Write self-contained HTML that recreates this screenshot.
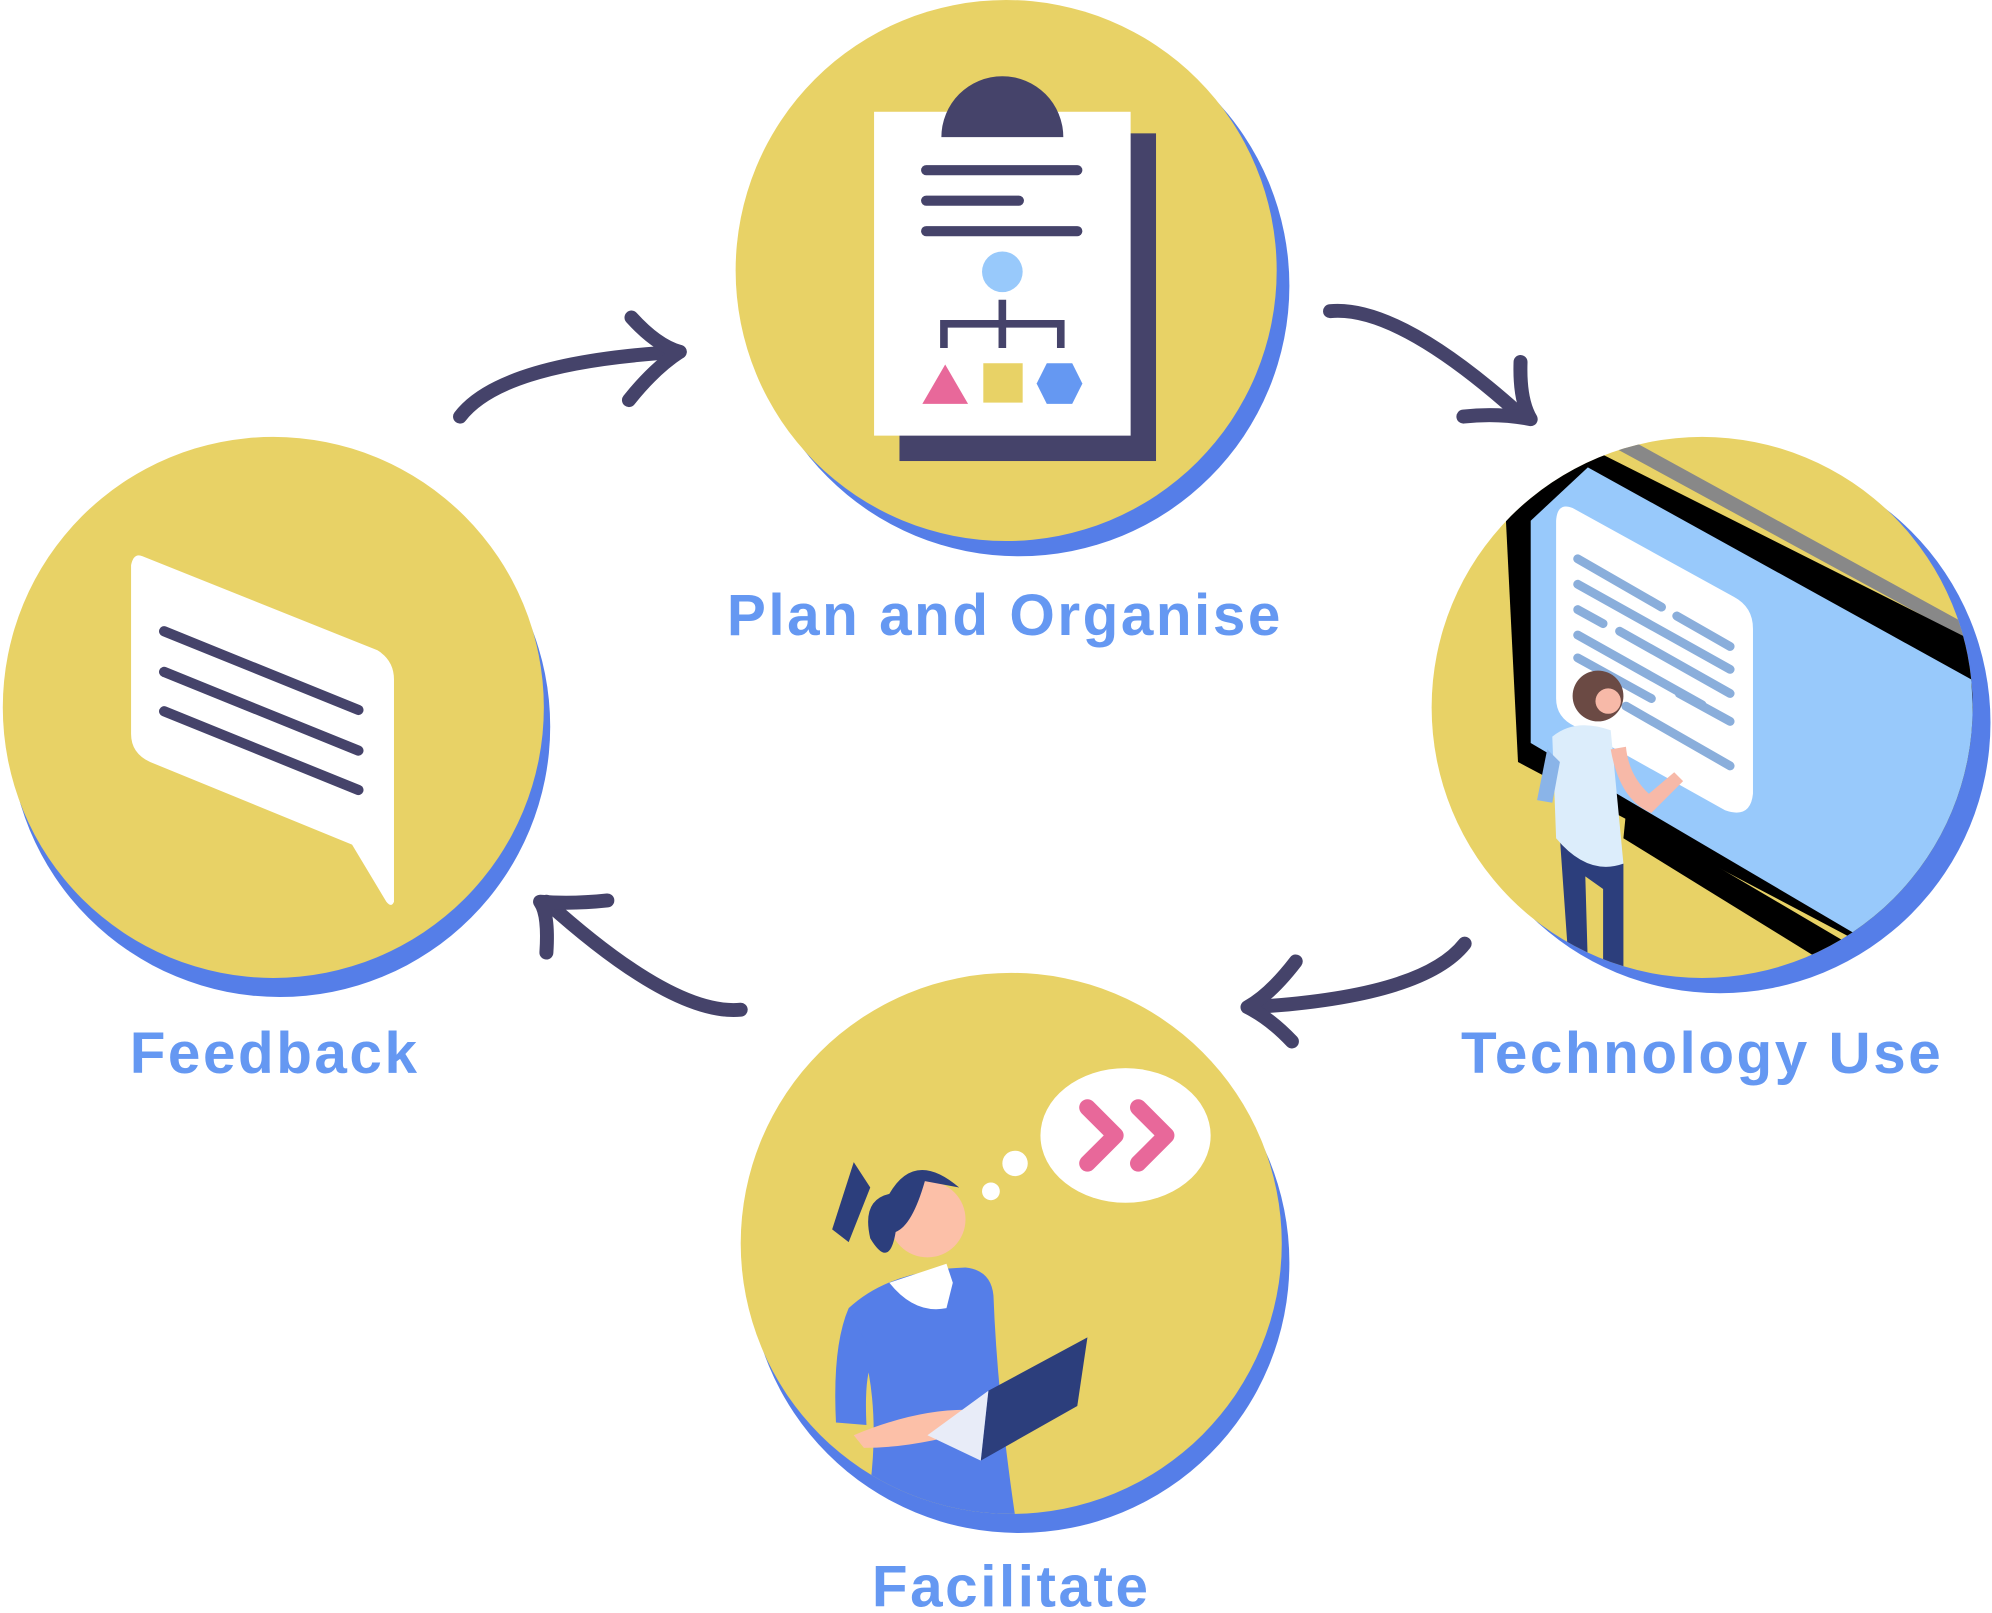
<!DOCTYPE html>
<html><head><meta charset="utf-8"><style>
html,body{margin:0;padding:0;background:#fff;}
svg{display:block;}
text{font-family:"Liberation Sans",sans-serif;font-weight:bold;fill:#6598f2;letter-spacing:2px;}
</style></head><body>
<svg width="1992" height="1613" viewBox="0 0 1568 1270" xmlns="http://www.w3.org/2000/svg">
<defs>
<clipPath id="cR"><circle cx="1340" cy="557" r="213"/></clipPath>
<clipPath id="cB"><circle cx="796" cy="979" r="213"/></clipPath>
</defs>
<circle cx="802" cy="225" r="213" fill="#557ee8"/>
<circle cx="1354" cy="569" r="213" fill="#557ee8"/>
<circle cx="220" cy="572" r="213" fill="#557ee8"/>
<circle cx="802" cy="994" r="213" fill="#557ee8"/>
<circle cx="792" cy="213" r="213" fill="#e8d266"/>
<circle cx="1340" cy="557" r="213" fill="#e8d266"/>
<circle cx="215" cy="557" r="213" fill="#e8d266"/>
<circle cx="796" cy="979" r="213" fill="#e8d266"/>

<rect x="708" y="105" width="202" height="258" fill="#45436a"/>
<rect x="688" y="88" width="202" height="255" fill="#fff"/>
<path d="M741 108 A48 48 0 0 1 837 108 Z" fill="#45436a"/>
<g stroke="#45436a" stroke-width="8" stroke-linecap="round">
<line x1="729" y1="134" x2="848" y2="134"/>
<line x1="729" y1="158" x2="802" y2="158"/>
<line x1="729" y1="182" x2="848" y2="182"/>
</g>
<circle cx="789" cy="214" r="16" fill="#98c9fb"/>
<g stroke="#45436a" stroke-width="6" fill="none">
<line x1="789" y1="236" x2="789" y2="274"/>
<polyline points="743,274 743,255 835,255 835,274"/>
</g>
<polygon points="744,287 762,318 726,318" fill="#e8689a"/>
<rect x="774" y="286" width="31" height="31" fill="#e8d266"/>
<polygon points="824,286 844,286 852,302 844,318 824,318 816,302" fill="#6598f2"/>

<g clip-path="url(#cR)">
<polygon points="1283,346 1560,498 1560,510 1270,352" fill="#888"/>
<polygon points="1185,400 1250,352 1560,508 1560,760 1470,745 1195,600" fill="#000"/>
<polygon points="1205,410 1250,368 1552,535 1560,720 1460,735 1205,585" fill="#98c9fb"/>
<path d="M1238 400 L1365 470 Q1380 478 1380 495 L1380 625 Q1378 645 1358 638 L1240 572 Q1225 565 1225 550 L1225 410 Q1226 395 1238 400Z" fill="#fff"/>
<g stroke="#8aaedb" stroke-width="7" stroke-linecap="round">
<line x1="1242" y1="440" x2="1308" y2="478"/><line x1="1320" y1="485" x2="1362" y2="509"/>
<line x1="1242" y1="460" x2="1362" y2="527"/>
<line x1="1242" y1="480" x2="1262" y2="491"/><line x1="1275" y1="497" x2="1362" y2="546"/>
<line x1="1242" y1="500" x2="1340" y2="555"/>
<line x1="1242" y1="518" x2="1300" y2="550"/><line x1="1322" y1="546" x2="1362" y2="568"/>
<line x1="1280" y1="556" x2="1362" y2="603"/>
</g>
<polygon points="1280,640 1450,740 1440,760 1278,660" fill="#000"/>
<path d="M1228 660 L1235 760 L1250 760 L1248 690 L1262 700 L1262 770 L1278 770 L1278 680 Z" fill="#2c3e7c"/>
<path d="M1222 580 Q1240 565 1268 575 L1278 680 Q1250 690 1225 660 Z" fill="#dcedfb"/>
<path d="M1218 590 L1210 630 L1222 632 L1228 600Z" fill="#8ab4e8"/>
<path d="M1268 590 Q1275 630 1300 640 L1325 615 L1318 608 L1298 625 Q1282 610 1280 588Z" fill="#f7b9a8"/>
<circle cx="1258" cy="548" r="20" fill="#6b4a44"/>
<circle cx="1266" cy="552" r="10" fill="#f7b9a8"/>
</g>

<path d="M112 438 L297 512 Q310 520 310 535 L310 710 Q308 715 304 710 L277 665 L118 600 Q103 593 103 578 L103 445 Q105 435 112 438Z" fill="#fff"/>
<g stroke="#45436a" stroke-width="8" stroke-linecap="round">
<line x1="129" y1="497" x2="282" y2="559"/>
<line x1="129" y1="529" x2="282" y2="591"/>
<line x1="129" y1="560" x2="282" y2="622"/>
</g>

<g clip-path="url(#cB)">
<ellipse cx="886" cy="894" rx="67" ry="53" fill="#fff"/>
<circle cx="799" cy="916" r="10" fill="#fff"/><circle cx="780" cy="938" r="7" fill="#fff"/>
<g stroke="#e8689a" stroke-width="13" stroke-linecap="round" fill="none" stroke-linejoin="round">
<polyline points="856,872 878,894 856,916"/><polyline points="896,872 918,894 896,916"/>
</g>
<path d="M668 1030 Q700 1000 760 998 Q780 1000 782 1020 Q785 1100 800 1200 L680 1200 Q700 1100 668 1030Z" fill="#557ee8"/>
<path d="M668 1030 Q655 1060 658 1120 L682 1122 Q680 1080 688 1070Z" fill="#557ee8"/>
<circle cx="730" cy="960" r="30" fill="#fcc0a8"/>
<path d="M700 940 Q720 905 755 935 L728 930 Q718 965 705 970 Q700 1000 685 975 Q678 945 700 940Z" fill="#2c3e7c"/>
<path d="M672 915 L655 968 L668 978 L685 935Z" fill="#2c3e7c"/>
<path d="M700 1010 Q720 1035 745 1030 L750 1010 L745 995Z" fill="#fff"/>
<path d="M672 1130 Q720 1110 760 1110 L770 1125 Q720 1140 680 1140Z" fill="#fcc0a8"/>
<polygon points="778,1095 856,1053 848,1107 772,1150" fill="#2c3e7c"/>
<polygon points="730,1130 772,1150 778,1095" fill="#e8ecf8"/>
</g>

<g stroke="#45436a" stroke-width="11" stroke-linecap="round" stroke-linejoin="round" fill="none">
<path d="M362 328 Q395 285 535 277"/>
<path d="M497 250 Q517 272 535 277 Q515 290 495 315"/>
<path d="M1047 245 Q1100 240 1195 325"/>
<path d="M1197 285 Q1196 315 1205 330 Q1180 325 1152 328"/>
<path d="M1153 743 Q1120 785 985 793"/>
<path d="M1020 757 Q1000 783 982 793 Q1000 802 1017 820"/>
<path d="M583 795 Q530 800 430 710"/>
<path d="M430 750 Q432 720 425 710 Q450 712 478 709"/>
</g>

<text x="791" y="500" font-size="46" text-anchor="middle">Plan and Organise</text>
<text x="1340" y="845" font-size="46" text-anchor="middle">Technology Use</text>
<text x="216" y="845" font-size="46" text-anchor="middle">Feedback</text>
<text x="796" y="1265" font-size="46" text-anchor="middle">Facilitate</text>
</svg>
</body></html>
